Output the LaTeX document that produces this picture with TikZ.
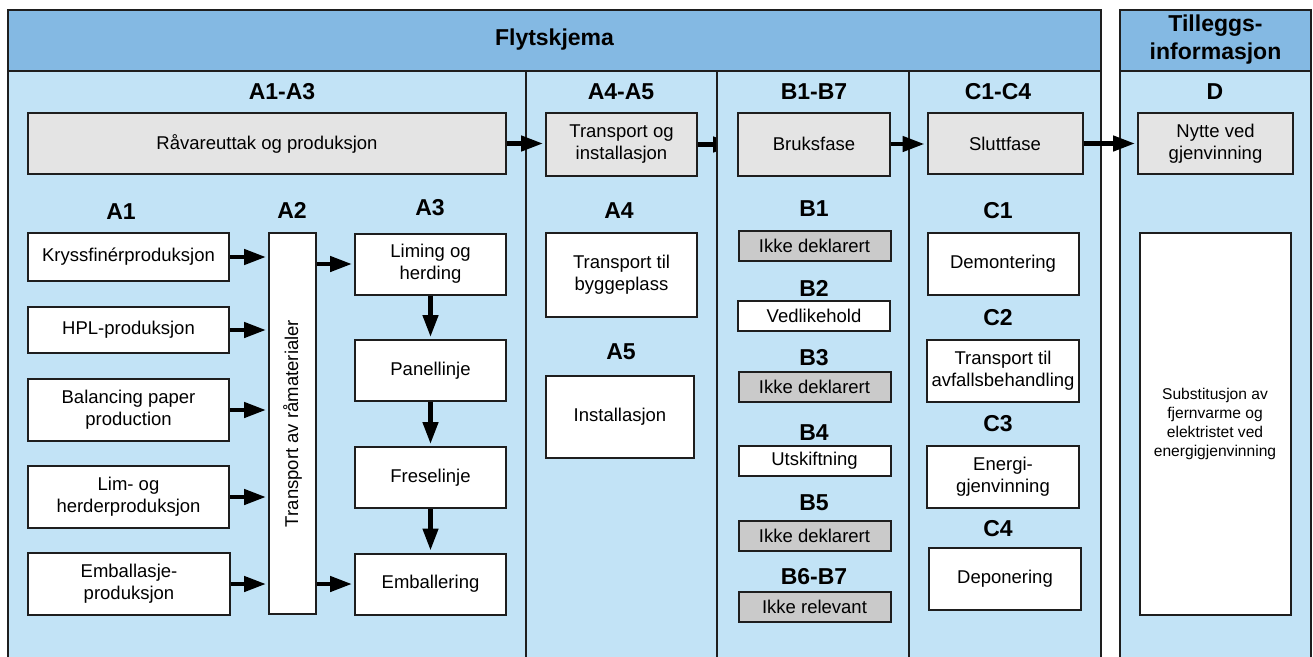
\documentclass[tikz,border=0pt]{standalone}
\usepackage{fontspec}
\setmainfont{Liberation Sans}
\usetikzlibrary{arrows.meta}
\definecolor{hdr}{HTML}{84B9E3}
\definecolor{bodyc}{HTML}{C2E3F6}
\definecolor{lgray}{HTML}{E4E4E4}
\definecolor{dgray}{HTML}{CACACA}
\definecolor{ln}{HTML}{1E1E1E}
\tikzset{
  frame/.style={draw=ln, line width=2pt, fill=bodyc},
  hdrfill/.style={draw=ln, line width=2pt, fill=hdr},
  divider/.style={draw=ln, line width=2pt},
  wbox/.style={draw=ln, line width=2pt, fill=white, inner sep=0pt, align=center,
    font=\fontsize{18.5}{22}\selectfont},
  gbox/.style={wbox, fill=lgray},
  dbox/.style={wbox, fill=dgray},
  hd/.style={inner sep=0pt, align=center, font=\fontsize{23}{28}\selectfont\bfseries},
  arr/.style={draw=black, line width=4.5pt, shorten >=2pt,
    -{Triangle[length=22pt,width=15pt]}},
}
\begin{document}
\begin{tikzpicture}[x=1pt,y=-1pt]
\useasboundingbox (0,0) rectangle (1313,656);
\clip (0,0) rectangle (1313,656);
% frames
\path[frame] (8,10) rectangle (1101,690);
\path[hdrfill] (8,10) rectangle (1101,71);
\path[frame] (1120,10) rectangle (1311,690);
\path[hdrfill] (1120,10) rectangle (1311,71);
\draw[divider] (526,71) -- (526,690);
\draw[divider] (717,71) -- (717,690);
\draw[divider] (909,71) -- (909,690);
% headers
\node[hd] (title) at (554.5,40) {Flytskjema};
\node[hd] (tillegg) at (1215.5,40) {Tilleggs-\\informasjon};
\node[hd] (tA13) at (282,92) {A1-A3};
\node[hd] (tA45) at (621,92) {A4-A5};
\node[hd] (tB) at (814,92) {B1-B7};
\node[hd] (tC) at (998,92) {C1-C4};
\node[hd] (tD) at (1215,92) {D};
% top row
\node[gbox, minimum width=478pt, minimum height=61pt] (R) at (267,143.5) {Råvareuttak og produksjon};
\node[gbox, minimum width=151pt, minimum height=63pt] (T) at (621.5,144.5) {Transport og\\installasjon};
\node[gbox, minimum width=152pt, minimum height=63pt] (B) at (814,144) {Bruksfase};
\node[gbox, minimum width=155pt, minimum height=61pt] (S) at (1005,143.5) {Sluttfase};
\node[gbox, minimum width=155pt, minimum height=61pt] (N) at (1215.5,143.5) {Nytte ved\\gjenvinning};
% A1-A3
\node[hd] (lA1) at (121,212) {A1};
\node[hd] (lA2) at (292,210) {A2};
\node[hd] (lA3) at (430,208) {A3};
\node[wbox, minimum width=201pt, minimum height=48pt] (k) at (128.5,257) {Kryssfinérproduksjon};
\node[wbox, minimum width=201pt, minimum height=46pt] (hpl) at (128.5,330) {HPL-produksjon};
\node[wbox, minimum width=201pt, minimum height=62pt] (bal) at (128.5,410) {Balancing paper\\production};
\node[wbox, minimum width=201pt, minimum height=62pt] (lim) at (128.5,497) {Lim- og\\herderproduksjon};
\node[wbox, minimum width=202pt, minimum height=62pt] (emb) at (129,584) {Emballasje-\\produksjon};
\node[wbox, minimum width=47pt, minimum height=381pt] (a2) at (292.5,423.5) {};
\node[rotate=90, inner sep=0pt, font=\fontsize{18.5}{22}\selectfont] (a2t) at (a2.center) {Transport av råmaterialer};
\node[wbox, minimum width=151pt, minimum height=61pt] (liming) at (430.5,264) {Liming og\\herding};
\node[wbox, minimum width=151pt, minimum height=61pt] (panel) at (430.5,370.5) {Panellinje};
\node[wbox, minimum width=151pt, minimum height=61pt] (frese) at (430.5,477.5) {Freselinje};
\node[wbox, minimum width=151pt, minimum height=61pt] (embl) at (430.5,584) {Emballering};
% A4-A5
\node[hd] (lA4) at (619,211) {A4};
\node[wbox, minimum width=151pt, minimum height=84pt] (a4) at (621.5,275) {Transport til\\byggeplass};
\node[hd] (lA5) at (621,352) {A5};
\node[wbox, minimum width=148pt, minimum height=82pt] (a5) at (620,417) {Installasjon};
% B
\node[hd] (lB1) at (814,209) {B1};
\node[dbox, minimum width=152pt, minimum height=30pt] (b1) at (814.5,246) {Ikke deklarert};
\node[hd] (lB2) at (814,288) {B2};
\node[wbox, minimum width=152pt, minimum height=30pt] (b2) at (814,316) {Vedlikehold};
\node[hd] (lB3) at (814,358) {B3};
\node[dbox, minimum width=152pt, minimum height=30pt] (b3) at (814.5,386.5) {Ikke deklarert};
\node[hd] (lB4) at (814,433) {B4};
\node[wbox, minimum width=152pt, minimum height=30pt] (b4) at (814.5,461) {Utskiftning};
\node[hd] (lB5) at (814,503) {B5};
\node[dbox, minimum width=152pt, minimum height=30pt] (b5) at (814.5,536) {Ikke deklarert};
\node[hd] (lB67) at (814,577) {B6-B7};
\node[dbox, minimum width=152pt, minimum height=30pt] (b67) at (814.5,606.5) {Ikke relevant};
% C
\node[hd] (lC1) at (998,211) {C1};
\node[wbox, minimum width=151pt, minimum height=62pt] (c1) at (1003,264) {Demontering};
\node[hd] (lC2) at (998,318) {C2};
\node[wbox, minimum width=152pt, minimum height=62pt] (c2) at (1003,371) {Transport til\\avfallsbehandling};
\node[hd] (lC3) at (998,424) {C3};
\node[wbox, minimum width=152pt, minimum height=62pt] (c3) at (1003,477) {Energi-\\gjenvinning};
\node[hd] (lC4) at (998,529) {C4};
\node[wbox, minimum width=152pt, minimum height=62pt] (c4) at (1005,579) {Deponering};
% D
\node[wbox, minimum width=151pt, minimum height=382pt,
  font=\fontsize{15.6}{19}\selectfont] (d) at (1215,424) {Substitusjon av\\fjernvarme og\\elektristet ved\\energigjenvinning};
% arrows
\draw[arr] (R.east) -- (R.east -| T.west);
\begin{scope}
  \clip (690,100) rectangle (716,190);
  \draw[arr] (T.east) -- (T.east -| B.west);
\end{scope}
\draw[arr] (B.east) -- (B.east -| S.west);
\draw[arr] (S.east) -- (S.east -| N.west);
\draw[arr] (k.east) -- (k.east -| a2.west);
\draw[arr] (hpl.east) -- (hpl.east -| a2.west);
\draw[arr] (bal.east) -- (bal.east -| a2.west);
\draw[arr] (lim.east) -- (lim.east -| a2.west);
\draw[arr] (emb.east) -- (emb.east -| a2.west);
\draw[arr] (a2.east |- liming.west) -- (liming.west);
\draw[arr] (a2.east |- embl.west) -- (embl.west);
\draw[arr] (liming.south) -- (panel.north);
\draw[arr] (panel.south) -- (frese.north);
\draw[arr] (frese.south) -- (embl.north);
\end{tikzpicture}
\end{document}
